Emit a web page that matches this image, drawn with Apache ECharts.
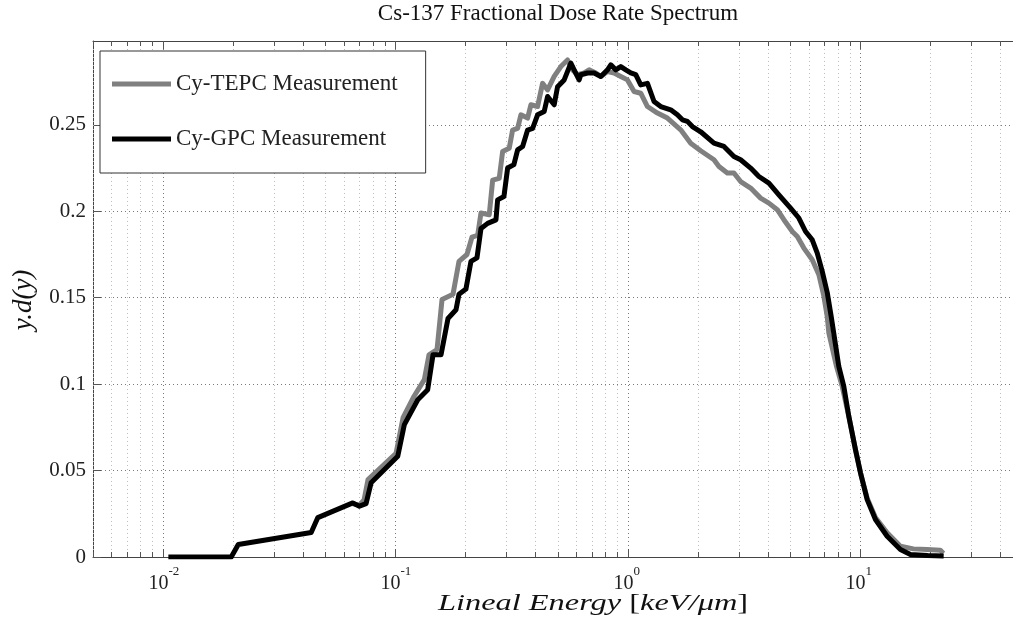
<!DOCTYPE html>
<html>
<head>
<meta charset="utf-8">
<script src="https://cdn.jsdelivr.net/npm/echarts@6/dist/echarts.min.js"></script>
<style>
  html, body { margin: 0; padding: 0; background: #fff; }
  #chart { width: 1013px; height: 626px; }
</style>
</head>
<body>
<div id="chart"></div>
<script>
// Lineal energy (keV/um) and fractional dose y.d(y) for the two detectors
const tepcEnergy = [0.0645, 0.0700, 0.07333, 0.07628, 0.1007, 0.10791, 0.12034, 0.13322, 0.13956, 0.15111,
  0.15877, 0.17701, 0.18780, 0.20325, 0.21358, 0.22600, 0.23351, 0.25349, 0.26216, 0.27985,
  0.28942, 0.30896, 0.31952, 0.33574, 0.34689, 0.37068, 0.38298, 0.40922, 0.42996, 0.45181,
  0.48238, 0.51537, 0.55060, 0.57853, 0.60779, 0.64904, 0.68196, 0.72879, 0.76540, 0.81793,
  0.87331, 0.93309, 0.99703, 1.0643, 1.1372, 1.2152, 1.3416, 1.4810, 1.6895, 1.8653,
  2.0597, 2.3488, 2.4684, 2.6818, 2.8627, 3.0590, 3.3781, 3.7284, 4.0480, 4.3985,
  4.6949, 5.1037, 5.3627, 5.7233, 6.2188, 6.6405, 6.9751, 7.2153, 7.3307, 7.9085,
  8.3689, 8.9331, 9.5454, 10.03, 10.717, 11.634, 13.062, 14.900, 16.949, 19.41,
  22.13, 22.80];
const tepcDose = [0.031, 0.0300, 0.0330, 0.0448, 0.0600, 0.0806, 0.0930, 0.1026, 0.117, 0.120,
  0.149, 0.152, 0.171, 0.175, 0.185, 0.186, 0.199, 0.198, 0.218, 0.219,
  0.2346, 0.2365, 0.247, 0.248, 0.2558, 0.2539, 0.2616, 0.2606, 0.274, 0.2702,
  0.278, 0.2837, 0.2875, 0.2818, 0.279, 0.280, 0.2818, 0.280, 0.278, 0.2808,
  0.280, 0.278, 0.276, 0.2693, 0.2683, 0.2606, 0.2568, 0.2539, 0.2471, 0.2394,
  0.235, 0.2298, 0.2259, 0.2221, 0.2221, 0.2172, 0.2134, 0.2076, 0.2047, 0.2009,
  0.1951, 0.1883, 0.1854, 0.1787, 0.172, 0.1633, 0.151, 0.139, 0.1296, 0.1103,
  0.0987, 0.0814, 0.0621, 0.0487, 0.034, 0.0228, 0.014, 0.0062, 0.0047, 0.0043,
  0.0039, 0.002];

const gpcEnergy = [0.01055, 0.01967, 0.02109, 0.04343, 0.04639, 0.06559, 0.07003, 0.07480, 0.07861, 0.10240,
  0.10932, 0.12483, 0.13776, 0.14521, 0.15721, 0.16844, 0.18234, 0.18780, 0.20124, 0.21147,
  0.22444, 0.23351, 0.24943, 0.27091, 0.27542, 0.29316, 0.30409, 0.32359, 0.33574, 0.35277,
  0.37068, 0.38950, 0.40922, 0.43685, 0.45181, 0.48238, 0.49888, 0.53254, 0.56889, 0.58766,
  0.61747, 0.62803, 0.67097, 0.71644, 0.76540, 0.81793, 0.84529, 0.88803, 0.93309, 0.98040,
  1.0301, 1.0823, 1.1372, 1.2152, 1.2972, 1.3862, 1.5302, 1.6352, 1.7182, 1.8054,
  1.8967, 2.0597, 2.3488, 2.5935, 2.8627, 3.0590, 3.3781, 3.6667, 4.0480, 4.4688,
  5.0177, 5.4463, 5.8211, 6.2188, 6.5356, 6.8668, 7.2153, 7.5066, 8.0910, 8.5023,
  8.9331, 9.5454, 10.03, 10.717, 11.634, 13.062, 14.900, 16.453, 19.5, 22.87];
const gpcDose = [0, 0, 0.0072, 0.0142, 0.0228, 0.0313, 0.0294, 0.0309, 0.0429, 0.0583,
  0.0766, 0.0910, 0.0968, 0.117, 0.117, 0.138, 0.143, 0.152, 0.155, 0.171,
  0.173, 0.190, 0.193, 0.195, 0.2066, 0.2085, 0.225, 0.227, 0.2355, 0.2375,
  0.247, 0.248, 0.2558, 0.2577, 0.2664, 0.2616, 0.2721, 0.276, 0.2857, 0.2818,
  0.276, 0.279, 0.280, 0.280, 0.278, 0.2818, 0.2847, 0.2818, 0.2837, 0.2818,
  0.280, 0.279, 0.2731, 0.274, 0.2635, 0.2606, 0.2587, 0.2558, 0.2529, 0.252,
  0.249, 0.246, 0.2394, 0.2375, 0.2317, 0.2298, 0.225, 0.2201, 0.2163, 0.2095,
  0.2018, 0.1961, 0.1883, 0.1835, 0.1758, 0.1652, 0.153, 0.139, 0.1103, 0.0987,
  0.0814, 0.0621, 0.0487, 0.0332, 0.0217, 0.012, 0.0043, 0.0014, 0.0008, 0.0006];

// Axis ranges and decade tick labels
const X_MIN = 0.005, X_MAX = 45.45;
const Y_MAX = 0.2985;
const decadeTicks = [0.01, 0.1, 1, 10];
const decadeExponents = ['-2', '-1', '0', '1'];
const minorMultipliers = [2, 3, 4, 5, 6, 7, 8, 9];
const minorDecades = [0.001, 0.01, 0.1, 1, 10];

const FONT = 'Liberation Serif';

const minorTicks = [];
minorDecades.forEach(d => minorMultipliers.forEach(m => {
  const v = +(m * d).toPrecision(6);
  if (v > X_MIN * 0.999 && v < X_MAX * 0.999) minorTicks.push([v, 0]);
}));

function tickGroup(api, isMajor, idx) {
  const v = api.value(0);
  const b = api.coord([v, 0]);
  const t = api.coord([v, Y_MAX]);
  const x = Math.round(b[0]) + 0.5;
  const len = isMajor ? 8 : 5;
  const children = [
    { type: 'line', shape: { x1: x, y1: t[1], x2: x, y2: b[1] },
      style: { stroke: isMajor ? '#7a7a7a' : '#bdbdbd', lineWidth: 1, lineDash: [1, 3] } },
    { type: 'line', shape: { x1: x, y1: b[1], x2: x, y2: b[1] - len },
      style: { stroke: '#555', lineWidth: 1 } },
    { type: 'line', shape: { x1: x, y1: t[1], x2: x, y2: t[1] + len },
      style: { stroke: '#555', lineWidth: 1 } }
  ];
  if (isMajor) {
    children.push({ type: 'text', x: x + 5, y: b[1] + 27,
      style: { text: '10', fontFamily: FONT, fontSize: 20, fill: '#222',
               align: 'right', verticalAlign: 'middle' } });
    children.push({ type: 'text', x: x + 5, y: b[1] + 15,
      style: { text: decadeExponents[idx], fontFamily: FONT, fontSize: 13, fill: '#222',
               align: 'left', verticalAlign: 'middle' } });
  }
  return { type: 'group', silent: true, children };
}

const chart = echarts.init(document.getElementById('chart'), null, { renderer: 'canvas' });

chart.setOption({
  animation: false,
  backgroundColor: '#fff',
  grid: { left: 93, top: 41, right: 0, height: 516, show: false },
  legend: {
    orient: 'vertical', left: 100, top: 51,
    padding: [21, 28, 22, 12], itemGap: 31,
    itemWidth: 59, itemHeight: 5, icon: 'rect',
    backgroundColor: '#fff', borderColor: '#333', borderWidth: 1,
    textStyle: { fontFamily: FONT, fontSize: 23, color: '#222', lineHeight: 24 },
    data: ['Cy-TEPC Measurement', 'Cy-GPC Measurement']
  },
  graphic: [
    { type: 'text', x: 558, y: 14,
      style: { text: 'Cs-137 Fractional Dose Rate Spectrum', fontFamily: FONT, fontSize: 23,
               fill: '#111', align: 'center', verticalAlign: 'middle' } },
    { type: 'text', x: 593, y: 604, scaleX: 1.35, originX: 0, originY: 0,
      style: { text: '{it|Lineal Energy }{up|[}{it|keV/μm}{up|]}',
               align: 'center', verticalAlign: 'middle',
               rich: {
                 it: { fontFamily: FONT, fontStyle: 'italic', fontSize: 24, fill: '#111' },
                 up: { fontFamily: FONT, fontSize: 24, fill: '#111' }
               } } },
    { type: 'text', x: 24, y: 300, rotation: Math.PI / 2,
      style: { text: 'y.d(y)', fontFamily: FONT, fontStyle: 'italic', fontSize: 27,
               fill: '#111', align: 'center', verticalAlign: 'middle' } }
  ],
  xAxis: [
    {
      type: 'log', logBase: 10, min: X_MIN, max: X_MAX, position: 'bottom',
      axisLine: { show: true, lineStyle: { color: '#444', width: 1 } },
      axisTick: { show: false }, axisLabel: { show: false },
      splitLine: { show: false }, minorTick: { show: false }
    },
    {
      // top frame edge
      type: 'log', logBase: 10, min: X_MIN, max: X_MAX, position: 'top',
      axisLine: { show: true, lineStyle: { color: '#444', width: 1 } },
      axisTick: { show: false }, axisLabel: { show: false },
      splitLine: { show: false }, minorTick: { show: false }
    }
  ],
  yAxis: {
    type: 'value', min: 0, max: Y_MAX, interval: 0.05,
    axisLine: { show: true, lineStyle: { color: '#444', width: 1 } },
    axisTick: { show: true, inside: true, length: 8, lineStyle: { color: '#555' } },
    axisLabel: { fontFamily: FONT, fontSize: 21, color: '#222', margin: 7,
                 showMaxLabel: false,
                 formatter: v => (Math.round(v * 100) / 100).toString() },
    splitLine: { show: true, lineStyle: { color: '#7a7a7a', width: 1, type: [1, 3] } }
  },
  series: [
    { type: 'custom', name: 'minor', coordinateSystem: 'cartesian2d', z: 1,
      data: minorTicks, renderItem: (p, api) => tickGroup(api, false, p.dataIndex) },
    { type: 'custom', name: 'major', coordinateSystem: 'cartesian2d', z: 1,
      data: decadeTicks.map(v => [v, 0]), renderItem: (p, api) => tickGroup(api, true, p.dataIndex) },
    { type: 'line', name: 'Cy-TEPC Measurement', z: 3, symbol: 'none', showSymbol: false,
      color: '#808080',
      lineStyle: { width: 5, color: '#808080', join: 'round', cap: 'butt' },
      data: tepcEnergy.map((e, i) => [e, tepcDose[i]]) },
    { type: 'line', name: 'Cy-GPC Measurement', z: 4, symbol: 'none', showSymbol: false,
      color: '#000',
      lineStyle: { width: 5, color: '#000', join: 'round', cap: 'butt' },
      data: gpcEnergy.map((e, i) => [e, gpcDose[i]]) }
  ]
});
</script>
</body>
</html>
